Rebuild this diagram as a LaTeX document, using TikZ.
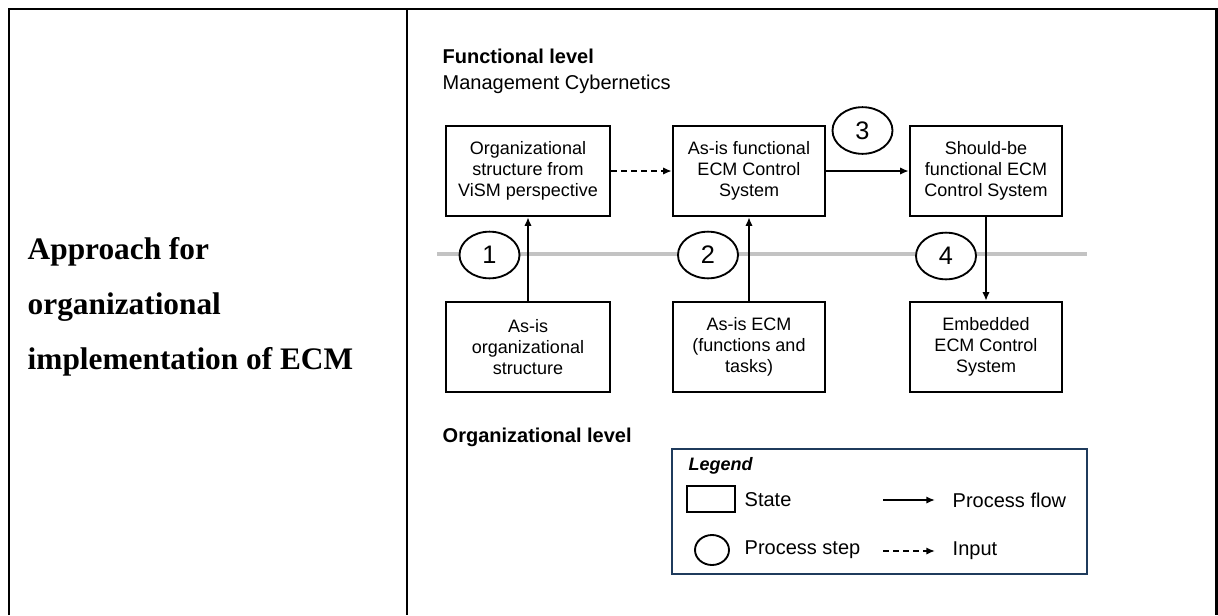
\documentclass[tikz,border=0pt]{standalone}
\usepackage{fontspec}
\setmainfont{Liberation Sans}
\newfontfamily\titleserif{Liberation Serif}
\usetikzlibrary{arrows.meta,shapes.geometric}
\definecolor{legendblue}{HTML}{1F3B5C}
\definecolor{levelgrey}{HTML}{C3C3C3}

\begin{document}
\begin{tikzpicture}[x=0.75pt,y=-0.75pt,
  state/.style={draw, line width=1.8pt, minimum height=67.5pt, inner sep=0pt,
    align=center, font=\fontsize{13.5}{15.75}\selectfont},
  widestate/.style={state, minimum width=123pt},
  narrowstate/.style={state, minimum width=114pt},
  stepmark/.style={draw, ellipse, fill=white, line width=1.4pt, inner sep=0pt,
    minimum width=45pt, minimum height=35pt, font=\fontsize{19}{19}\selectfont},
  flow/.style={line width=1.4pt, -{Latex[length=6.5pt,width=5.5pt]}},
  inputflow/.style={flow, dash pattern=on 4.5pt off 3pt},
  heading/.style={anchor=base west, font=\fontsize{15}{15}\selectfont\bfseries},
  legendtext/.style={anchor=west, font=\fontsize{15}{15}\selectfont},
  titleline/.style={anchor=base west, font=\fontsize{23.5}{28}\selectfont\titleserif\bfseries},
  tableline/.style={line width=1.9pt}]

\useasboundingbox (0,0) rectangle (1218,615);

% table frame
\draw[tableline] (9,615) -- (9,9) -- (1216.5,9) -- (1216.5,615);
\draw[tableline] (407,9) -- (407,615);

% left column title
\node[titleline] (t1) at (23,259) {Approach for};
\node[titleline] (t2) at (23,314) {organizational};
\node[titleline] (t3) at (23,369) {implementation of ECM};

% level headings
\node[heading] (funclevel) at (438,63) {Functional level};
\node[anchor=base west, font=\fontsize{15}{15}\selectfont] (mgmt) at (438,89) {Management Cybernetics};
\node[heading] (orglevel) at (438,442) {Organizational level};

% separator between levels
\draw[levelgrey, line width=3pt] (437,254) -- (1087,254);

% states
\node[widestate] (a1) at (528,171) {Organizational\\structure from\\ViSM perspective};
\node[narrowstate] (a2) at (749,171) {As-is functional\\ECM Control\\System};
\node[narrowstate] (a3) at (986,171) {Should-be\\functional ECM\\Control System};
\node[widestate] (b1) at (528,347) {As-is\\organizational\\structure};
\node[narrowstate] (b2) at (749,347) {As-is ECM\\(functions and\\tasks)};
\node[narrowstate] (b3) at (986,347) {Embedded\\ECM Control\\System};

% connectors
\draw[flow] (b1.north) -- (a1.south);
\draw[flow] (b2.north) -- (a2.south);
\draw[inputflow] (a1.east) -- (a2.west);
\draw[flow] (a2.east) -- (a3.west);
\draw[flow] (a3.south) -- (b3.north);

% process steps
\node[stepmark] (s1) at (489.5,255) {1};
\node[stepmark] (s2) at (708,255) {2};
\node[stepmark] (s3) at (862.5,130.5) {3};
\node[stepmark] (s4) at (946,256) {4};

% legend
\node[draw=legendblue, line width=1.8pt, minimum width=311.25pt, minimum height=93.75pt,
  inner sep=0pt] (legend) at (879.5,511.5) {};
\node[anchor=base west, font=\fontsize{13.5}{13.5}\selectfont\bfseries\itshape] (legendtitle) at (684,470) {Legend};
\node[draw, line width=1.6pt, minimum width=36pt, minimum height=19.5pt, inner sep=0pt] (keystate) at (711,499) {};
\node[legendtext] (keystatetext) at (740,500) {State};
\node[draw, ellipse, line width=1.4pt, minimum width=25.5pt, minimum height=22.5pt, inner sep=0pt] (keystep) at (712,550) {};
\node[legendtext] (keysteptext) at (740,550) {Process step};
\coordinate (kf1) at (883,500);
\coordinate (kf2) at (935,500);
\coordinate (ki1) at (883,551);
\coordinate (ki2) at (935,551);
\draw[flow] (kf1) -- (kf2);
\draw[inputflow] (ki1) -- (ki2);
\node[legendtext] (keyflowtext) at (948,500) {Process flow};
\node[legendtext] (keyinputtext) at (948,551) {Input};
\end{tikzpicture}
\end{document}
